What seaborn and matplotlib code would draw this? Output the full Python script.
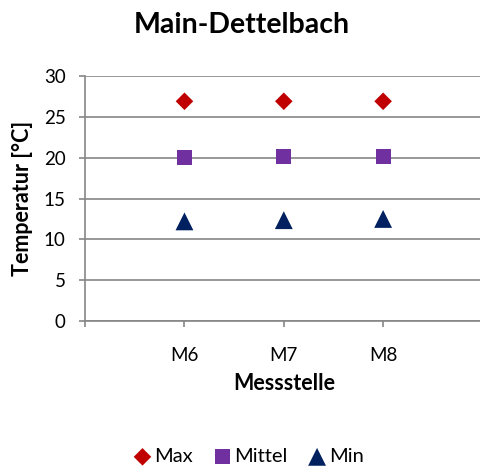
import pandas as pd
import seaborn as sns
from matplotlib import pyplot as plt

sns.set_style('white')
plt.rcParams['font.family'] = ['Lato', 'DejaVu Sans']
plt.rcParams['text.color'] = 'black'
plt.rcParams['axes.labelcolor'] = 'black'
plt.rcParams['xtick.labelcolor'] = 'black'
plt.rcParams['ytick.labelcolor'] = 'black'

# data
stellen = ['M6', 'M7', 'M8']
t_max = [26.9, 26.9, 26.9]
t_mittel = [20.0, 20.1, 20.1]
t_min = [12.2, 12.35, 12.5]

df = pd.DataFrame({'pos': [1, 2, 3], 'Max': t_max, 'Mittel': t_mittel, 'Min': t_min})

grey = '#868686'
fig = plt.figure(figsize=(4.81, 4.66), dpi=100)
ax = fig.add_axes([0.177, 0.311, 0.826, 0.526])

sns.scatterplot(data=df, x='pos', y='Max', marker='D', s=80, color='#C00000',
                edgecolor='none', label='Max', ax=ax, zorder=3)
sns.scatterplot(data=df, x='pos', y='Mittel', marker='s', s=120, color='#7030A0',
                edgecolor='none', label='Mittel', ax=ax, zorder=3)
sns.scatterplot(data=df, x='pos', y='Min', marker='^', s=165, color='#002060',
                edgecolor='none', label='Min', ax=ax, zorder=3)

ax.set_xlim(0, 4)
ax.set_ylim(0, 30)
ax.set_yticks(range(0, 31, 5))
ax.set_xticks([0, 1, 2, 3, 4])
ax.set_xticklabels([''] + stellen + [''])
ax.yaxis.grid(True, color=grey, lw=1.2)
ax.set_axisbelow(True)
for s in ['top', 'right']:
    ax.spines[s].set_visible(False)
for s in ['left', 'bottom']:
    ax.spines[s].set_color(grey)
    ax.spines[s].set_linewidth(1.2)
ax.tick_params(axis='y', direction='out', length=4, width=1.2, color=grey,
               labelsize=13.5, pad=10, left=True)
ax.tick_params(axis='x', direction='out', length=4, width=1.2, color=grey,
               labelsize=13.5, pad=15, bottom=True)

ax.set_xlabel('Messstelle', fontsize=15.5, fontweight='bold', labelpad=6)
ax.set_ylabel('Temperatur [°C]', fontsize=15.5, fontweight='bold', labelpad=8)
fig.suptitle('Main-Dettelbach', fontsize=20.5, fontweight='bold', x=0.503, y=0.975)

h, l = ax.get_legend_handles_labels()
ax.get_legend().remove()
fig.legend(h, l, loc='lower center', bbox_to_anchor=(0.515, -0.037), ncol=3,
           frameon=False, fontsize=14.5, handletextpad=0.05, columnspacing=0.9,
           handlelength=1.1)

fig.savefig('out.png', dpi=100)
